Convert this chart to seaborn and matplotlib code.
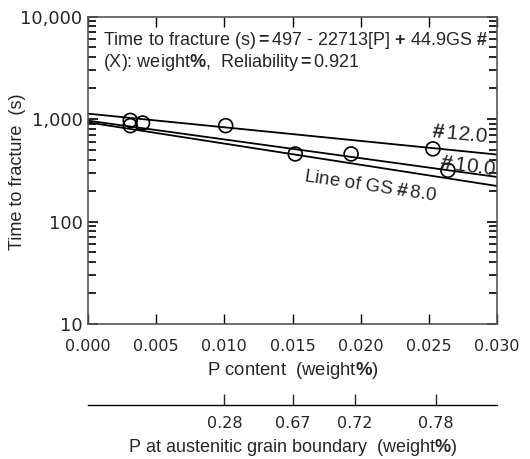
import matplotlib
matplotlib.use("Agg")
import matplotlib.pyplot as plt
import matplotlib.ticker as mticker
import seaborn as sns
import pandas as pd

# ---- data ----
p_content = [0.0031, 0.0031, 0.0040, 0.0101, 0.0152, 0.0193, 0.0253, 0.0264]
time_to_fracture = [969, 861, 914, 861, 456, 456, 511, 316]

line_p = [0.0, 0.030]
gs_labels = ["12.0", "10.0", "8.0"]
line_gs12 = [1127, 450]
line_gs10 = [963, 272]
line_gs8 = [927, 222]

x_ticks = [0.000, 0.005, 0.010, 0.015, 0.020, 0.025, 0.030]
x_ticklabels = ["0.000", "0.005", "0.010", "0.015", "0.020", "0.025", "0.030"]
y_ticks = [10, 100, 1000, 10000]
y_ticklabels = ["10", "100", "1,000", "10,000"]
gb_positions = [0.0100, 0.0150, 0.0196, 0.0255]
gb_labels = ["0.28", "0.67", "0.72", "0.78"]

sns.set_style("ticks")
plt.rcParams["font.family"] = ["Liberation Sans", "DejaVu Sans"]
plt.rcParams["mathtext.fontset"] = "custom"
plt.rcParams["mathtext.rm"] = "Liberation Sans"
plt.rcParams["mathtext.it"] = "Liberation Sans:italic"
plt.rcParams["mathtext.bf"] = "Liberation Sans:bold"

spine_col = "#555555"
tick_font = dict(family="DejaVu Sans")

fig = plt.figure(figsize=(5.30, 4.59), dpi=100)
ax = fig.add_axes([88 / 530, 1 - 324 / 459, (497 - 88) / 530, (324 - 16.5) / 459])

lines_df = pd.DataFrame({
    "P": line_p * 3,
    "T": line_gs12 + line_gs10 + line_gs8,
    "GS": [gs_labels[0]] * 2 + [gs_labels[1]] * 2 + [gs_labels[2]] * 2,
})
sns.lineplot(data=lines_df, x="P", y="T", units="GS", estimator=None,
             color="black", linewidth=1.3, ax=ax, legend=False)

pts_df = pd.DataFrame({"P": p_content, "T": time_to_fracture})
sns.scatterplot(data=pts_df, x="P", y="T", ax=ax, s=100, marker="o",
                facecolor="none", edgecolor="black", linewidth=1.2, zorder=3)

ax.set_yscale("log")
ax.set_xlim(0, 0.030)
ax.set_ylim(10, 10000)
ax.set_xticks(x_ticks)
ax.set_xticklabels(x_ticklabels, fontsize=11.5, **tick_font)
ax.set_yticks(y_ticks)
ax.set_yticklabels(y_ticklabels, fontsize=12.8, **tick_font)
ax.yaxis.set_minor_locator(mticker.LogLocator(base=10, subs=range(2, 10)))
ax.yaxis.set_minor_formatter(mticker.NullFormatter())
ax.tick_params(axis="x", which="major", direction="in", top=True, bottom=True,
               length=7, width=1, color="black", pad=11)
ax.tick_params(axis="y", which="major", direction="in", left=True, right=True,
               length=7, width=1.2, color="black", pad=4)
ax.tick_params(axis="y", which="minor", direction="in", left=True, right=True,
               length=6, width=1.2, color="black")
for s in ax.spines.values():
    s.set_color(spine_col)
    s.set_linewidth(1.2)

ax.set_xlabel(r"P content  (weight$\mathbf{\%}$)", fontsize=13.3, labelpad=4)
ax.set_ylabel("Time to fracture  (s)", fontsize=13)
ax.yaxis.set_label_coords((26 - 88) / 409, 1 - (171.5 - 16.5) / 307.5)

# annotation
ax.text(15 / 409, 1 - 24 / 307.5,
        r"Time to fracture (s)$\mathbf{=}$497 - 22713[P] $\mathbf{+}$ 44.9GS $\mathbf{\#}$",
        transform=ax.transAxes, fontsize=13, ha="left", va="center")
ax.text(15 / 409, 1 - 46 / 307.5,
        r"(X): weight$\mathbf{\%}$,  Reliability$\mathbf{=}$0.921",
        transform=ax.transAxes, fontsize=13, ha="left", va="center")

ax.text(0.02729, 703, r"$\mathbf{\#}\,\mathit{12.0}$", fontsize=15,
        ha="center", va="center", rotation=-5.5)
ax.text(0.02787, 343, r"$\mathbf{\#}\,\mathit{10.0}$", fontsize=15,
        ha="center", va="center", rotation=-7.5)
ax.text(0.02068, 219, r"Line of GS $\mathbf{\#}\,\mathit{8.0}$", fontsize=13.5,
        ha="center", va="center", rotation=-8.5)

# secondary axis: P at austenitic grain boundary
ax2 = fig.add_axes([88 / 530, 1 - 405 / 459, (497 - 88) / 530, 0.001])
ax2.set_xlim(0, 0.030)
ax2.set_yticks([])
for k in ["top", "left", "right"]:
    ax2.spines[k].set_visible(False)
ax2.spines["bottom"].set_color("black")
ax2.spines["bottom"].set_linewidth(1.0)
ax2.set_xticks(gb_positions)
ax2.set_xticklabels(gb_labels, fontsize=11.5, **tick_font)
ax2.tick_params(axis="x", direction="in", length=8, width=1, pad=8)
ax2.patch.set_visible(False)
ax2.set_xlabel(r"P at austenitic grain boundary  (weight$\mathbf{\%}$)",
               fontsize=13, labelpad=4)

fig.savefig("out.png", dpi=100)
